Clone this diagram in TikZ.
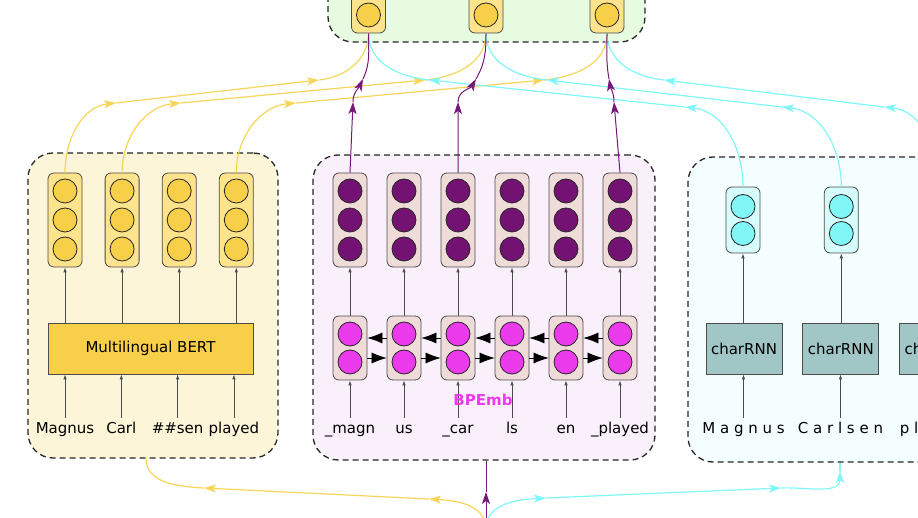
\documentclass[tikz,border=0pt]{standalone}
\usepackage{fontspec}
\setmainfont{DejaVu Sans}
\usetikzlibrary{positioning,arrows.meta}

\definecolor{bertbg}{HTML}{FCF5D8}
\definecolor{bertcell}{HTML}{FCE38C}
\definecolor{bertdot}{HTML}{F8CF48}
\definecolor{bpebg}{HTML}{FAF0FB}
\definecolor{bpecell}{HTML}{EFDBD8}
\definecolor{bpedark}{HTML}{731272}
\definecolor{bpepink}{HTML}{EA3AEC}
\definecolor{charbg}{HTML}{F4FEFE}
\definecolor{charcell}{HTML}{D6FCFC}
\definecolor{chardot}{HTML}{80F6F6}
\definecolor{charrnn}{HTML}{A1C6C6}
\definecolor{topbg}{HTML}{E6FBE0}
\definecolor{flowyellow}{HTML}{F8D559}
\definecolor{flowpurple}{HTML}{761878}
\definecolor{flowcyan}{HTML}{80F7F7}

\tikzset{
  panel/.style={draw=black!85, line width=1.3pt, dash pattern=on 6pt off 4pt, rounded corners=25pt},
  vec/.style={draw=black!70, line width=0.8pt, rounded corners=6pt, minimum width=34pt, inner sep=0pt},
  dots/.style 2 args={path picture={
      \foreach \dy in {#2}
        \draw[draw=black!85, line width=0.8pt, fill=#1]
          ([yshift=\dy]path picture bounding box.center) circle (12pt);}},
  bertvec/.style={vec, fill=bertcell, minimum height=94pt, dots={bertdot}{29pt,0pt,-29pt}},
  bpevec/.style={vec, fill=bpecell, minimum height=94pt, dots={bpedark}{29pt,0pt,-29pt}},
  rnnvec/.style={vec, fill=bpecell, minimum height=64pt, dots={bpepink}{14pt,-14pt}},
  charvec/.style={vec, fill=charcell, minimum height=66pt, dots={chardot}{13.5pt,-13.5pt}},
  layer/.style={draw=black!70, line width=0.8pt, minimum height=51pt, inner sep=0pt},
  bertlayer/.style={layer, fill=bertdot, minimum width=205pt},
  charlayer/.style={layer, fill=charrnn, minimum width=76pt},
  wordlabel/.style={text height=12pt, text depth=4pt, inner sep=3pt},
  feed/.style={color=black!70, line width=0.8pt, -{Latex[length=5pt,width=3.5pt]}},
  bilink/.style={every edge/.style={draw, color=black, line width=0.6pt, -{Latex[length=15pt,width=11pt]}}},
  flowtip/.style={-{Stealth[length=12pt,width=8pt,inset=3pt]}},
  yflow/.style={color=flowyellow, line width=1.2pt},
  pflow/.style={color=flowpurple, line width=1pt},
  cflow/.style={color=flowcyan, line width=1.2pt},
}

\begin{document}
\begin{tikzpicture}[x=1pt, y=1pt, font=\fontsize{15pt}{18pt}\selectfont]
  \useasboundingbox (0,0) rectangle (918,517);
  \clip (0,0) rectangle (918,517);

  % panels
  \node[panel, fill=bertbg, minimum width=250pt, minimum height=305pt] (bertbox) at (153,211.5) {};
  \node[panel, fill=bpebg, minimum width=342pt, minimum height=305pt] (bpebox) at (484,209.5) {};
  \node[panel, fill=charbg, minimum width=312pt, minimum height=305pt] (charbox) at (844,207.5) {};
  \node[panel, fill=topbg, minimum width=317pt, minimum height=145pt] (topbox) at (486.5,547.5) {};

  % multilingual BERT
  \node[bertvec] (bert1) at (65,297) {};
  \node[bertvec] (bert2) [right=22.3pt of bert1] {};
  \node[bertvec] (bert3) [right=22.3pt of bert2] {};
  \node[bertvec] (bert4) [right=22.3pt of bert3] {};
  \node[bertlayer] (mbert) at (150.5,168.5) {Multilingual BERT};
  \node[wordlabel] (bw1) at (65,88) {Magnus};
  \node[wordlabel] (bw2) at (121.3,88) {Carl};
  \node[wordlabel] (bw3) at (177.6,88) {\#\#sen};
  \node[wordlabel] (bw4) at (233.9,88) {played};

  % BPEmb
  \node[bpevec] (bpe1) at (350,297) {};
  \node[bpevec] (bpe2) [right=19.2pt of bpe1] {};
  \node[bpevec] (bpe3) [right=19.2pt of bpe2] {};
  \node[bpevec] (bpe4) [right=19.2pt of bpe3] {};
  \node[bpevec] (bpe5) [right=19.2pt of bpe4] {};
  \node[bpevec] (bpe6) [right=19.2pt of bpe5] {};
  \node[rnnvec] (rnn1) at (350,169) {};
  \node[rnnvec] (rnn2) [right=19.2pt of rnn1] {};
  \node[rnnvec] (rnn3) [right=19.2pt of rnn2] {};
  \node[rnnvec] (rnn4) [right=19.2pt of rnn3] {};
  \node[rnnvec] (rnn5) [right=19.2pt of rnn4] {};
  \node[rnnvec] (rnn6) [right=19.2pt of rnn5] {};
  \node[wordlabel] (pw1) at (rnn1 |- bw1) {\_magn};
  \node[wordlabel] (pw2) at (rnn2 |- bw1) {us};
  \node[wordlabel] (pw3) at (rnn3 |- bw1) {\_car};
  \node[wordlabel] (pw4) at (rnn4 |- bw1) {ls};
  \node[wordlabel] (pw5) at (rnn5 |- bw1) {en};
  \node[wordlabel] (pw6) at (rnn6 |- bw1) {\_played};

  % charRNN
  \node[charvec] (chv1) at (743,297) {};
  \node[charvec] (chv2) [right=63.5pt of chv1] {};
  \node[charvec] (chv3) [right=63.5pt of chv2] {};
  \node[charlayer] (crnn1) at (744,168.5) {charRNN};
  \node[charlayer] (crnn2) [right=20pt of crnn1] {charRNN};
  \node[charlayer] (crnn3) [right=20pt of crnn2] {charRNN};
  \node[wordlabel] (cw1) at (743.5,88) {M a g n u s};
  \node[wordlabel] (cw2) at (840.5,88) {C a r l s e n};
  \node[wordlabel] (cw3) at (937,88) {p l a y e d};

  % top
  \node[bertvec] (top1) at (368.5,531) {};
  \node[bertvec] (top2) at (486,531) {};
  \node[bertvec] (top3) at (607,531) {};

  % feeds inside the panels
  \draw[feed] (bw1.north) -- (bw1 |- mbert.south);
  \draw[feed] (bw2.north) -- (bw2 |- mbert.south);
  \draw[feed] (bw3.north) -- (bw3 |- mbert.south);
  \draw[feed] (bw4.north) -- (bw4 |- mbert.south);
  \draw[feed] (mbert.north -| bert1) -- (bert1.south);
  \draw[feed] (mbert.north -| bert2) -- (bert2.south);
  \draw[feed] (mbert.north -| bert3) -- (bert3.south);
  \draw[feed] (mbert.north -| bert4) -- (bert4.south);

  \draw[feed] (pw1.north) -- (rnn1.south);
  \draw[feed] (pw2.north) -- (rnn2.south);
  \draw[feed] (pw3.north) -- (rnn3.south);
  \draw[feed] (pw4.north) -- (rnn4.south);
  \draw[feed] (pw5.north) -- (rnn5.south);
  \draw[feed] (pw6.north) -- (rnn6.south);
  \draw[feed] (rnn1.north) -- (bpe1.south);
  \draw[feed] (rnn2.north) -- (bpe2.south);
  \draw[feed] (rnn3.north) -- (bpe3.south);
  \draw[feed] (rnn4.north) -- (bpe4.south);
  \draw[feed] (rnn5.north) -- (bpe5.south);
  \draw[feed] (rnn6.north) -- (bpe6.south);
  \path[bilink]
    ([yshift=10pt]rnn2.west) edge ([yshift=10pt]rnn1.east)
    ([yshift=10pt]rnn3.west) edge ([yshift=10pt]rnn2.east)
    ([yshift=10pt]rnn4.west) edge ([yshift=10pt]rnn3.east)
    ([yshift=10pt]rnn5.west) edge ([yshift=10pt]rnn4.east)
    ([yshift=10pt]rnn6.west) edge ([yshift=10pt]rnn5.east)
    ([yshift=-10pt]rnn1.east) edge ([yshift=-10pt]rnn2.west)
    ([yshift=-10pt]rnn2.east) edge ([yshift=-10pt]rnn3.west)
    ([yshift=-10pt]rnn3.east) edge ([yshift=-10pt]rnn4.west)
    ([yshift=-10pt]rnn4.east) edge ([yshift=-10pt]rnn5.west)
    ([yshift=-10pt]rnn5.east) edge ([yshift=-10pt]rnn6.west);
  \node[font=\fontsize{15pt}{18pt}\selectfont\bfseries, text=bpepink] (bpename) at (483,117) {BPEmb};

  \draw[feed] (cw1.north) -- (cw1 |- crnn1.south);
  \draw[feed] (cw2.north) -- (cw2 |- crnn2.south);
  \draw[feed] (cw3.north) -- (cw3 |- crnn3.south);
  \draw[feed] (crnn1.north -| chv1) -- (chv1.south);
  \draw[feed] (crnn2.north -| chv2) -- (chv2.south);
  \draw[feed] (crnn3.north -| chv3) -- (chv3.south);

  % bends of the flows
  \coordinate (ya1) at (116,414);  \coordinate (yb1) at (319,437);
  \coordinate (ya2) at (181,414);  \coordinate (yb2) at (425,437);
  \coordinate (ya3) at (296,414);  \coordinate (yb3) at (544,437);
  \coordinate (pa1) at (353,415);  \coordinate (pb1) at (363,438);
  \coordinate (pa2) at (458,415);  \coordinate (pb2) at (476,438);
  \coordinate (pa3) at (614,415);  \coordinate (pb3) at (609,438);
  \coordinate (ca1) at (685,410);  \coordinate (cb1) at (429,437);
  \coordinate (ca2) at (782,410);  \coordinate (cb2) at (547,437);
  \coordinate (ca3) at (884,410);  \coordinate (cb3) at (664,437);
  \coordinate (src) at (486,-12);
  \coordinate (yc1) at (204,29);   \coordinate (yc2) at (429,18);
  \coordinate (cc1) at (546,19);   \coordinate (cc2) at (781,29);
  \coordinate (cc3) at (840,46);   \coordinate (pc1) at (486,25);
  \coordinate (bertin) at (146,59);

  % flows to the top
  \path[yflow]
    (bert1.north) edge[flowtip, out=90, in=186] (ya1)
    (ya1) edge[flowtip] (yb1)
    (yb1) edge[out=6, in=-90] (top1.south)
    (bert2.north) edge[flowtip, out=90, in=185] (ya2)
    (ya2) edge[flowtip] (yb2)
    (yb2) edge[out=5, in=-90] (top2.south)
    (bert4.north) edge[flowtip, out=90, in=185] (ya3)
    (ya3) edge[flowtip] (yb3)
    (yb3) edge[out=5, in=-90] (top3.south);
  \path[cflow]
    (chv1.north) edge[flowtip, out=90, in=-6] (ca1)
    (ca1) edge[flowtip] (cb1)
    (cb1) edge[out=174, in=-90] (top1.south)
    (chv2.north) edge[flowtip, out=90, in=-6] (ca2)
    (ca2) edge[flowtip] (cb2)
    (cb2) edge[out=174, in=-90] (top2.south)
    (chv3.north) edge[flowtip, out=90, in=-6] (ca3)
    (ca3) edge[flowtip] (cb3)
    (cb3) edge[out=174, in=-90] (top3.south);
  \path[pflow]
    (bpe1.north) edge[flowtip] (pa1)
    (pa1) edge[flowtip, out=90, in=-115] (pb1)
    (pb1) edge[out=65, in=-90] (top1.south)
    (bpe3.north) edge[flowtip] (pa2)
    (pa2) edge[flowtip, out=90, in=-120] (pb2)
    (pb2) edge[out=60, in=-90] (top2.south)
    (bpe6.north) edge[flowtip] (pa3)
    (pa3) edge[flowtip, out=90, in=-80] (pb3)
    (pb3) edge[out=100, in=-90] (top3.south);

  % flows from the bottom
  \path[yflow]
    (src) edge[flowtip, out=90, in=-3] (yc2)
    (yc2) edge[flowtip] (yc1)
    (yc1) edge[out=177, in=-90] (bertin);
  \path[pflow]
    (src) edge[flowtip] (pc1)
    (pc1) edge (pc1 |- bpebox.south);
  \path[cflow]
    (src) edge[flowtip, out=90, in=183] (cc1)
    (cc1) edge[flowtip] (cc2)
    (cc2) edge[flowtip, out=3, in=-90] (cc3)
    (cc3) edge (cc3 |- charbox.south);
\end{tikzpicture}
\end{document}
